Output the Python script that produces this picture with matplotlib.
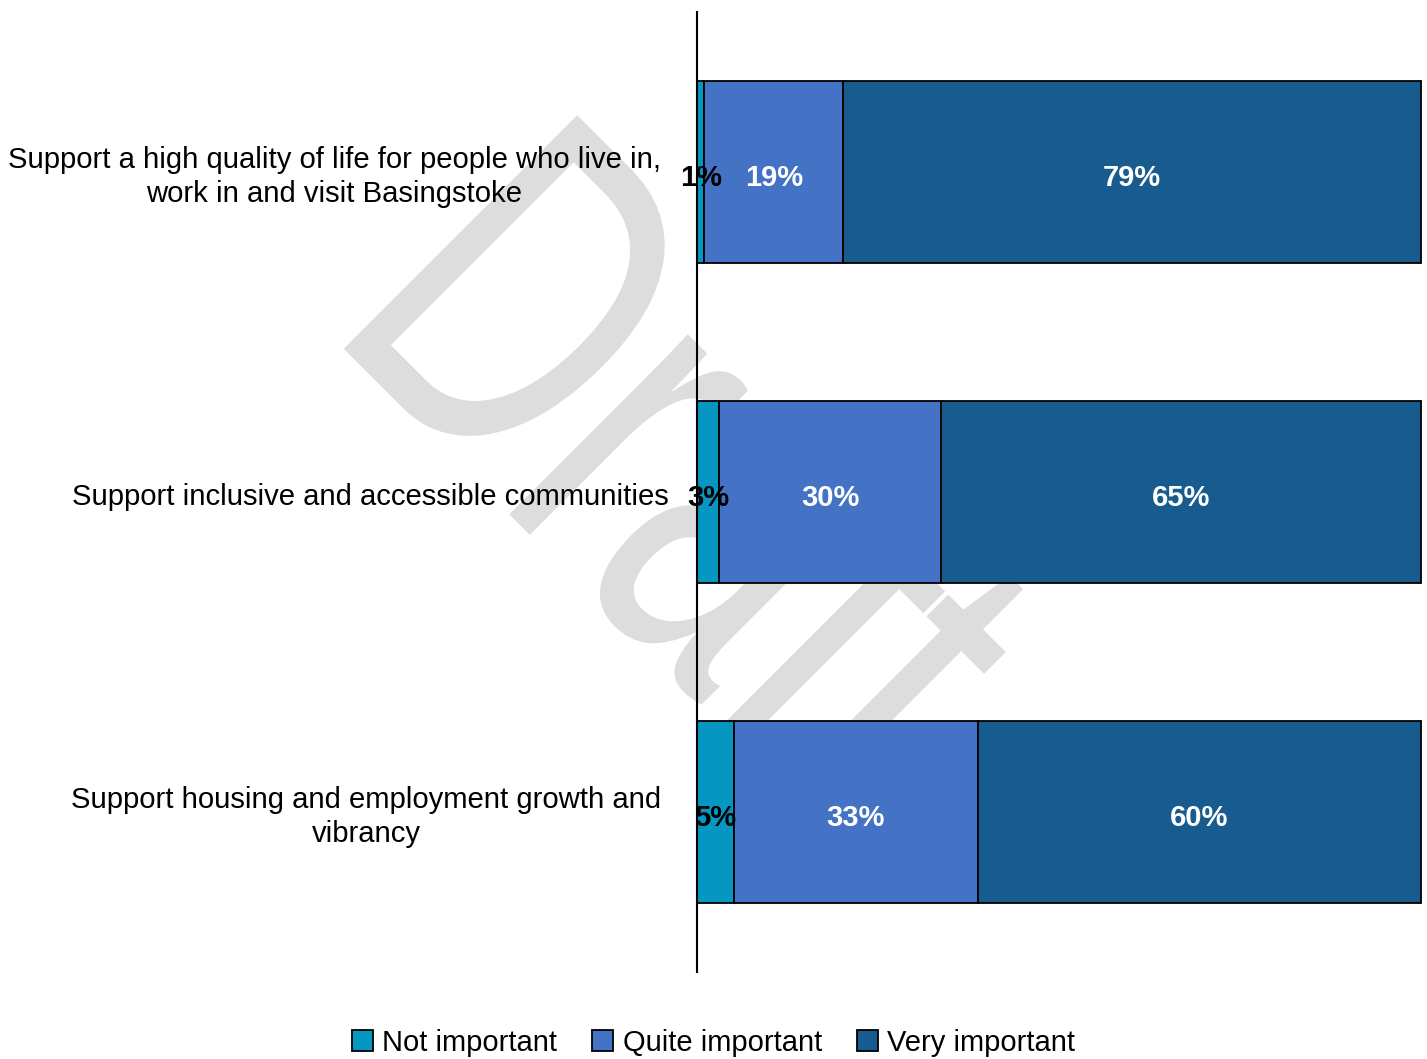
import matplotlib
matplotlib.use("Agg")
import matplotlib.pyplot as plt
import numpy as np
from matplotlib.textpath import TextPath
from matplotlib.patches import PathPatch
from matplotlib.font_manager import FontProperties
from matplotlib.transforms import Affine2D

plt.rcParams['font.family'] = 'Liberation Sans'

categories = [
    "Support a high quality of life for people who live in,\nwork in and visit Basingstoke",
    "Support inclusive and accessible communities",
    "Support housing and employment growth and\nvibrancy",
]
series = ["Not important", "Quite important", "Very important"]
not_important = [1, 3, 5]
quite_important = [19, 30, 33]
very_important = [79, 65, 60]

colors = ["#0696C2", "#4472C4", "#185B8E"]
label_colors = ["black", "white", "white"]

W, H = 1427, 1059
fig = plt.figure(figsize=(W / 100, H / 100), dpi=100)
fig.patch.set_facecolor("white")

# diagonal "Draft" watermark behind the chart
tp = TextPath((0, 0), "Draft", size=1, prop=FontProperties(family="Liberation Sans"))
sx, sy = 330, 480
off = 0.079 * sx / np.sqrt(2)
wm = Affine2D().scale(sx, sy).rotate_deg(-45).translate(343 - off, (H - 348) + off)
fig.add_artist(PathPatch(tp, transform=wm, facecolor="#dddddd", edgecolor="none", zorder=-1))

ax = fig.add_axes([697 / W, 1 - 972 / H, (1421 - 697) / W, 960 / H])
ax.set_facecolor("none")

rows = np.array([not_important, quite_important, very_important], dtype=float).T
fracs = rows / rows.sum(axis=1, keepdims=True)
y = np.arange(len(categories))

left = np.zeros(len(categories))
for j, name in enumerate(series):
    ax.barh(y, fracs[:, j], left=left, height=0.57, color=colors[j],
            edgecolor="black", linewidth=1.3, label=name, clip_on=False, zorder=2)
    for i in range(len(categories)):
        ax.text(left[i] + fracs[i, j] / 2, y[i] + 0.02, f"{int(rows[i, j])}%",
                ha="center", va="center", fontsize=21, fontweight="bold",
                color=label_colors[j], zorder=4)
    left += fracs[:, j]

# category labels, wrapped ones sit a little further left
label_x = [-0.0497, -0.0387, -0.0497]
for i, cat in enumerate(categories):
    ax.text(label_x[i], y[i] + 0.015, cat, transform=ax.get_yaxis_transform(),
            ha="right", va="center", multialignment="center", fontsize=21.1,
            linespacing=1.3)

ax.set_xlim(0, 1)
ax.set_ylim(2.5, -0.5)
for s in ["top", "right", "bottom"]:
    ax.spines[s].set_visible(False)
ax.spines["left"].set_linewidth(1.5)
ax.spines["left"].set_zorder(3)
ax.set_xticks([])
ax.set_yticks([])

fig.legend(loc="center", bbox_to_anchor=(713.5 / W, 1 - 1043 / H), ncol=3,
           frameon=False, fontsize=21, handlelength=0.72, handleheight=0.72,
           handletextpad=0.32, columnspacing=1.2)

fig.savefig("out.png", dpi=100, facecolor="white")
